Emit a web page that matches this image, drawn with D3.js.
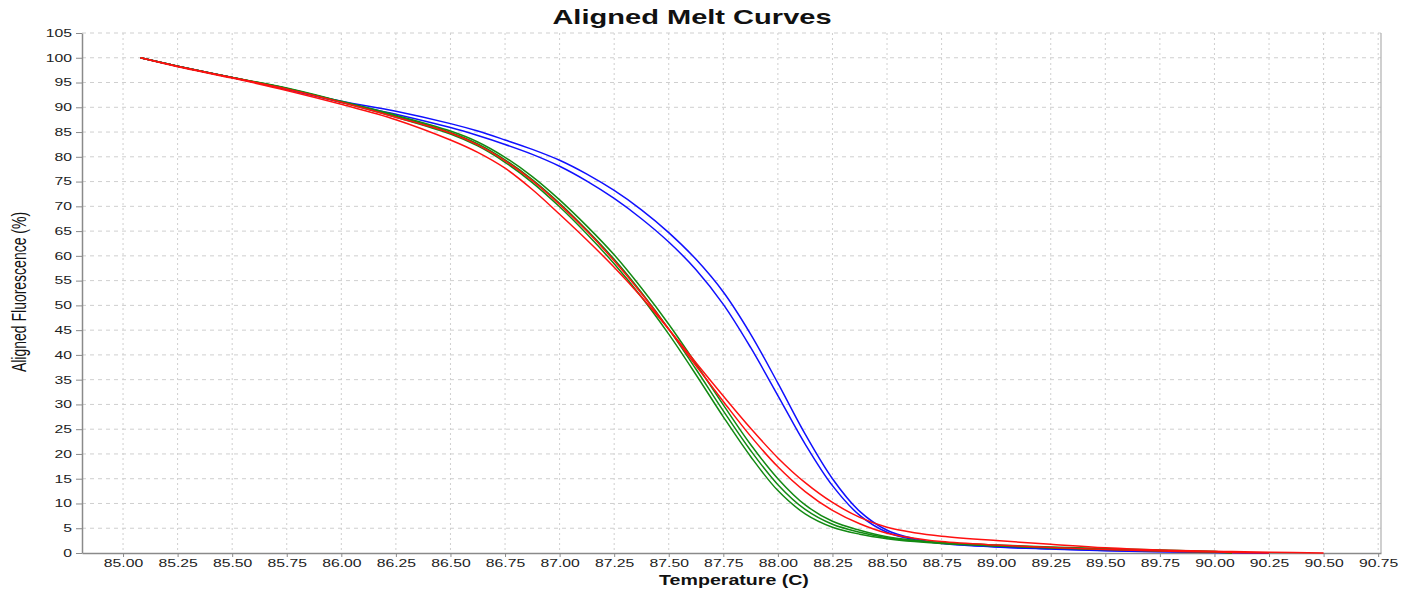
<!DOCTYPE html>
<html>
<head>
<meta charset="utf-8">
<script src="https://cdn.jsdelivr.net/npm/d3@7"></script>
<style>
  html, body { margin: 0; padding: 0; background: #fff; }
  svg { display: block; }
  text { font-family: Arial, "Liberation Sans", sans-serif; }
</style>
</head>
<body>
<svg id="chart" width="1404" height="592"></svg>
<script>
// ---- Data ----
const temps = [85.08, 85.25, 85.5, 85.75, 86.0, 86.25, 86.5, 86.625, 86.75, 86.875, 87.0, 87.125, 87.25, 87.375, 87.5, 87.625, 87.75, 87.875, 88.0, 88.125, 88.25, 88.375, 88.5, 88.625, 88.75, 89.0, 89.25, 89.5, 89.75, 90.0, 90.08, 90.25, 90.5];

const blue1  = [100, 98.3, 96.0, 93.6, 91.0, 88.6, 85.9, 84.3, 82.5, 80.5, 78.1, 75.1, 71.6, 67.5, 62.8, 57.2, 50.2, 41.5, 31.8, 22.0, 13.6, 7.6, 4.2, 2.7, 1.9, 1.2, 0.8, 0.45, 0.25, 0.1, 0.08, 0, null];
const blue2  = [100, 98.3, 96.0, 93.7, 91.2, 89.2, 86.7, 85.2, 83.4, 81.5, 79.3, 76.5, 73.2, 69.3, 64.7, 59.3, 52.7, 44.2, 34.3, 24.0, 15.0, 8.4, 4.6, 2.9, 2.0, 1.25, 0.85, 0.5, 0.3, 0.15, 0.1, 0, null];
const green1 = [100, 98.3, 96.0, 93.8, 91.0, 88.0, 84.6, 82.2, 78.9, 74.8, 69.9, 64.4, 58.4, 51.7, 44.2, 36.0, 27.5, 19.5, 12.6, 7.9, 5.2, 3.8, 2.9, 2.3, 1.9, 1.4, 1.0, 0.7, 0.4, 0.2, 0, null, null];
const green2 = [100, 98.3, 96.0, 93.8, 91.1, 88.2, 84.9, 82.6, 79.4, 75.4, 70.6, 65.2, 59.3, 52.6, 45.2, 37.1, 28.7, 20.7, 13.8, 8.8, 5.8, 4.2, 3.1, 2.45, 2.0, 1.5, 1.1, 0.8, 0.5, 0.3, 0.05, null, null];
const green3 = [100, 98.3, 96.0, 93.9, 91.2, 88.4, 85.2, 83.0, 79.9, 76.0, 71.3, 66.0, 60.2, 53.5, 46.2, 38.2, 29.9, 21.9, 15.0, 9.7, 6.4, 4.6, 3.3, 2.6, 2.1, 1.6, 1.2, 0.9, 0.6, 0.3, 0.1, null, null];
const redA   = [100, 98.2, 95.9, 93.4, 90.6, 87.5, 83.4, 80.9, 77.7, 73.4, 68.4, 63.2, 57.7, 51.7, 45.2, 38.4, 31.7, 25.2, 19.2, 14.2, 10.2, 7.2, 5.2, 4.1, 3.4, 2.5, 1.75, 1.05, 0.6, 0.35, 0.28, 0.15, 0];
const redB   = [100, 98.3, 96.0, 93.7, 91.0, 88.0, 84.8, 82.4, 79.2, 75.2, 70.4, 65.0, 59.0, 52.4, 45.2, 37.8, 30.6, 23.6, 17.4, 12.4, 8.6, 5.9, 4.0, 3.0, 2.3, 1.6, 1.1, 0.7, 0.4, 0.2, 0.1, 0, null];

const seriesNames = ["blue1", "blue2", "green1", "green2", "green3", "redB", "redA"];
const seriesValues = [blue1, blue2, green1, green2, green3, redB, redA];
const seriesColors = ["#1010ff", "#1010ff", "#138a13", "#138a13", "#138a13", "#ff1010", "#ff1010"];

const xTicks = d3.range(0, 24).map(i => 85 + i * 0.25);
const yTicks = d3.range(0, 22).map(i => i * 5);

const title = "Aligned Melt Curves";
const xLabel = "Temperature (C)";
const yLabel = "Aligned Fluorescence (%)";

// ---- Layout ----
const plotL = 82, plotR = 1381, plotT = 33, plotB = 553;
const SX = 1.5; // horizontal stretch of text

const svg = d3.select("#chart");
const x = d3.scaleLinear().domain([84.812, 90.763]).range([plotL, plotR]);
const y = d3.scaleLinear().domain([0, 105]).range([plotB, plotT]);

// grid
const grid = svg.append("g");
grid.selectAll("line.v").data(xTicks).enter().append("line")
  .attr("x1", d => x(d)).attr("x2", d => x(d))
  .attr("y1", plotT).attr("y2", plotB)
  .attr("stroke", "#cfcfcf").attr("stroke-width", 1).attr("stroke-dasharray", "2,3");
grid.selectAll("line.h").data(yTicks.filter(d => d > 0)).enter().append("line")
  .attr("x1", plotL).attr("x2", plotR)
  .attr("y1", d => y(d)).attr("y2", d => y(d))
  .attr("stroke", "#cfcfcf").attr("stroke-width", 1).attr("stroke-dasharray", "4,4");

// right border
svg.append("line").attr("x1", plotR).attr("x2", plotR).attr("y1", plotT).attr("y2", plotB)
  .attr("stroke", "#b0b0b0").attr("stroke-width", 1.2);

// axes
const xAxis = svg.append("g").attr("transform", `translate(0,${plotB})`)
  .call(d3.axisBottom(x).tickValues(xTicks).tickFormat(d3.format(".2f")).tickSizeOuter(0).tickSizeInner(4));
const yAxis = svg.append("g").attr("transform", `translate(${plotL},0)`)
  .call(d3.axisLeft(y).tickValues(yTicks).tickFormat(d3.format("d")).tickSizeOuter(0).tickSizeInner(6));

[xAxis, yAxis].forEach(a => {
  a.select(".domain").attr("stroke", "#8a8a8a").attr("stroke-width", 1.5);
  a.selectAll(".tick line").attr("stroke", "#8a8a8a");
  a.selectAll(".tick text").attr("fill", "#222").style("font-size", "10.5px")
    .style("font-family", "Arial, 'Liberation Sans', sans-serif");
});
xAxis.selectAll(".tick text").attr("y", 7).attr("transform", `scale(${SX},1)`);
yAxis.selectAll(".tick text").attr("x", -10 / SX).attr("transform", `scale(${SX},1)`);

// lines
const line = d3.line()
  .defined(d => d[1] !== null)
  .x(d => x(d[0])).y(d => y(d[1]))
  .curve(d3.curveCatmullRom.alpha(0.5));

const plot = svg.append("g");
seriesValues.forEach((vals, i) => {
  const pts = temps.map((t, j) => [t, vals[j]]);
  plot.append("path").datum(pts)
    .attr("class", "series " + seriesNames[i])
    .attr("d", line)
    .attr("fill", "none")
    .attr("stroke", seriesColors[i])
    .attr("stroke-width", 1.5);
});

// title & labels
svg.append("text")
  .attr("transform", `translate(692,24) scale(1.49,1)`)
  .attr("text-anchor", "middle")
  .style("font-size", "19.5px").style("font-weight", "bold").attr("fill", "#111")
  .text(title);

svg.append("text")
  .attr("transform", `translate(734,585) scale(1.4,1)`)
  .attr("text-anchor", "middle")
  .style("font-size", "14px").style("font-weight", "bold").attr("fill", "#111")
  .text(xLabel);

svg.append("text")
  .attr("transform", `translate(26,292) scale(1.45,1) rotate(-90)`)
  .attr("text-anchor", "middle")
  .style("font-size", "14px").attr("fill", "#111")
  .text(yLabel);
</script>
</body>
</html>
